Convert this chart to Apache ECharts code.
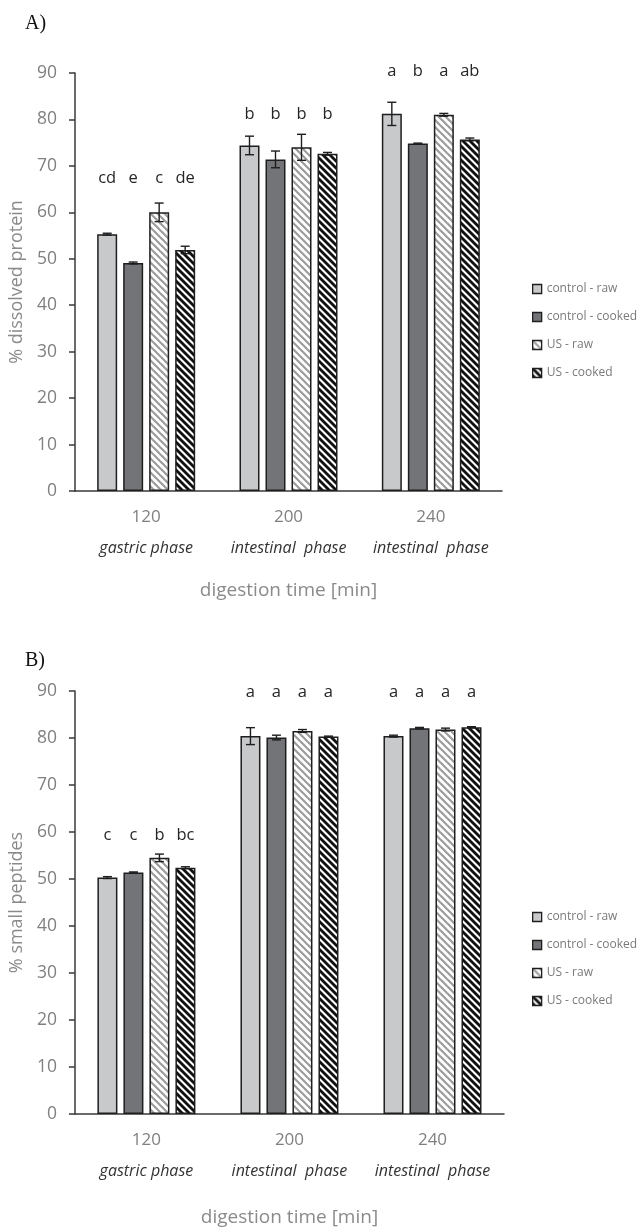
<!DOCTYPE html>
<html>
<head>
<meta charset="utf-8">
<script src="https://cdn.jsdelivr.net/npm/echarts@6/dist/echarts.min.js"></script>
<style>
  html, body { margin: 0; padding: 0; background: #fff; }
  #chart { width: 640px; height: 1228px; }
</style>
</head>
<body>
<div id="chart"></div>
<script>
// categories
const times = ['120', '200', '240'];
const phases = ['gastric phase', 'intestinal  phase', 'intestinal  phase'];
const groups = ['control - raw', 'control - cooked', 'US - raw', 'US - cooked'];
const yTicks = [0, 90, 10]; // min, max, step

// A) % dissolved protein
const ctrlRawA = [55.3, 74.4, 81.2];
const ctrlCookedA = [49.1, 71.4, 74.8];
const usRawA = [60.0, 74.0, 81.0];
const usCookedA = [51.9, 72.6, 75.7];
const ctrlRawErrA = [0.2, 2.0, 2.5];
const ctrlCookedErrA = [0.2, 1.8, 0.1];
const usRawErrA = [2.0, 2.8, 0.3];
const usCookedErrA = [0.8, 0.3, 0.3];
const lettersA = [['cd', 'b', 'a'], ['e', 'b', 'b'], ['c', 'b', 'a'], ['de', 'b', 'ab']];
const letterLevelA = [67.3, 81.1, 90.4];

// B) % small peptides
const ctrlRawB = [50.3, 80.4, 80.4];
const ctrlCookedB = [51.4, 80.1, 82.1];
const usRawB = [54.5, 81.5, 81.8];
const usCookedB = [52.4, 80.3, 82.3];
const ctrlRawErrB = [0.2, 1.8, 0.2];
const ctrlCookedErrB = [0.1, 0.5, 0.15];
const usRawErrB = [0.8, 0.3, 0.3];
const usCookedErrB = [0.2, 0.1, 0.1];
const lettersB = [['c', 'a', 'a'], ['c', 'a', 'a'], ['b', 'a', 'a'], ['bc', 'a', 'a']];
const letterLevelB = [59.4, 89.8, 89.8];

const BAR_W = 20;
const GAP = 0.3;
const PITCH = BAR_W * (1 + GAP);
const FONT = 'Open Sans';

function hatch(color, lw) {
    const s = 7;
    const c = document.createElement('canvas');
    c.width = s; c.height = s;
    const ctx = c.getContext('2d');
    ctx.fillStyle = '#fff';
    ctx.fillRect(0, 0, s, s);
    ctx.strokeStyle = color;
    ctx.lineWidth = lw;
    for (let k = -1; k <= 1; k++) {
        ctx.beginPath();
        ctx.moveTo(k * s - 1, -1);
        ctx.lineTo(k * s + s + 1, s + 1);
        ctx.stroke();
    }
    return { image: c, repeat: 'repeat' };
}

const fills = ['#c8c9cb', '#737478', hatch('#9c9c9c', 2.2), hatch('#111111', 2.8)];

function barSeries(values, k, gi) {
    return {
        name: groups[k],
        type: 'bar',
        xAxisIndex: gi,
        yAxisIndex: gi,
        barWidth: BAR_W,
        barGap: (GAP * 100) + '%',
        data: values,
        itemStyle: { color: fills[k], borderColor: '#1e1e1e', borderWidth: 1.5 },
        emphasis: { disabled: true }
    };
}

function errSeries(values, errs, letters, levels, k, gi) {
    return {
        type: 'custom',
        xAxisIndex: gi,
        yAxisIndex: gi,
        z: 5,
        silent: true,
        data: values.map((v, i) => [i, v, errs[i]]),
        renderItem: function (params, api) {
            const i = api.value(0);
            const mean = api.value(1);
            const sd = api.value(2);
            const x = api.coord([i, mean])[0] + (k - 1.5) * PITCH;
            const hi = api.coord([i, mean + sd])[1];
            const lo = api.coord([i, mean - sd])[1];
            const ly = api.coord([i, levels[i]])[1];
            const st = { stroke: '#1e1e1e', lineWidth: 1.4 };
            return {
                type: 'group',
                children: [
                    { type: 'line', shape: { x1: x, y1: hi, x2: x, y2: lo }, style: st },
                    { type: 'line', shape: { x1: x - 4.5, y1: hi, x2: x + 4.5, y2: hi }, style: st },
                    { type: 'line', shape: { x1: x - 4.5, y1: lo, x2: x + 4.5, y2: lo }, style: st },
                    {
                        type: 'text',
                        style: {
                            x: x, y: ly, text: letters[k][i],
                            align: 'center', verticalAlign: 'middle',
                            font: '16.5px "' + FONT + '"', fill: '#262626'
                        }
                    }
                ]
            };
        }
    };
}

function xAxis(gi, gap) {
    return {
        type: 'category',
        gridIndex: gi,
        data: times,
        name: 'digestion time [min]',
        nameLocation: 'middle',
        nameGap: gap,
        nameTextStyle: { color: '#8a8a8a', fontSize: 19, fontFamily: FONT },
        axisLine: { lineStyle: { color: '#3a3a3a', width: 1.5 } },
        axisTick: { length: 7, lineStyle: { color: '#3a3a3a', width: 1.5 } },
        axisLabel: {
            margin: 15,
            formatter: (v, i) => '{n|' + v + '}\n{p|' + phases[i] + '}',
            rich: {
                n: { fontSize: 17, color: '#808080', fontFamily: FONT, lineHeight: 22 },
                p: { fontSize: 16, color: '#333333', fontFamily: FONT, fontStyle: 'italic', lineHeight: 40 }
            }
        }
    };
}

function yAxis(gi, name) {
    return {
        type: 'value',
        gridIndex: gi,
        min: yTicks[0],
        max: yTicks[1],
        interval: yTicks[2],
        name: name,
        nameLocation: 'middle',
        nameGap: 44,
        nameTextStyle: { color: '#8a8a8a', fontSize: 18, fontFamily: FONT },
        axisLine: { show: true, lineStyle: { color: '#3a3a3a', width: 1.5 } },
        axisTick: { show: true, length: 6, lineStyle: { color: '#3a3a3a', width: 1.5 } },
        axisLabel: { margin: 18, color: '#808080', fontSize: 17.5, fontFamily: FONT },
        splitLine: { show: false }
    };
}

function legend(top) {
    return {
        data: groups,
        orient: 'vertical',
        left: 527,
        top: top,
        itemWidth: 9,
        itemHeight: 9,
        itemGap: 12,
        icon: 'rect',
        itemStyle: { borderColor: '#1e1e1e', borderWidth: 1.3 },
        textStyle: { color: '#7a7a7a', fontSize: 12, fontFamily: FONT, lineHeight: 16 },
        selectedMode: false
    };
}

const chart = echarts.init(document.getElementById('chart'), null, { renderer: 'canvas' });

chart.setOption({
    animation: false,
    backgroundColor: '#fff',
    title: [
        { text: 'A)', left: 20, top: 9, textStyle: { fontFamily: 'Liberation Serif', fontSize: 20, fontWeight: 'normal', color: '#111' } },
        { text: 'B)', left: 20, top: 646, textStyle: { fontFamily: 'Liberation Serif', fontSize: 20, fontWeight: 'normal', color: '#111' } }
    ],
    legend: [legend(276), legend(904)],
    grid: [
        { left: 75, right: 138, top: 73, height: 418 },
        { left: 71, right: 136, top: 691, height: 423 }
    ],
    xAxis: [xAxis(0, 90), xAxis(1, 94)],
    yAxis: [yAxis(0, '% dissolved protein'), yAxis(1, '% small peptides')],
    series: [
        barSeries(ctrlRawA, 0, 0),
        barSeries(ctrlCookedA, 1, 0),
        barSeries(usRawA, 2, 0),
        barSeries(usCookedA, 3, 0),
        barSeries(ctrlRawB, 0, 1),
        barSeries(ctrlCookedB, 1, 1),
        barSeries(usRawB, 2, 1),
        barSeries(usCookedB, 3, 1),
        errSeries(ctrlRawA, ctrlRawErrA, lettersA, letterLevelA, 0, 0),
        errSeries(ctrlCookedA, ctrlCookedErrA, lettersA, letterLevelA, 1, 0),
        errSeries(usRawA, usRawErrA, lettersA, letterLevelA, 2, 0),
        errSeries(usCookedA, usCookedErrA, lettersA, letterLevelA, 3, 0),
        errSeries(ctrlRawB, ctrlRawErrB, lettersB, letterLevelB, 0, 1),
        errSeries(ctrlCookedB, ctrlCookedErrB, lettersB, letterLevelB, 1, 1),
        errSeries(usRawB, usRawErrB, lettersB, letterLevelB, 2, 1),
        errSeries(usCookedB, usCookedErrB, lettersB, letterLevelB, 3, 1)
    ]
});
</script>
</body>
</html>
